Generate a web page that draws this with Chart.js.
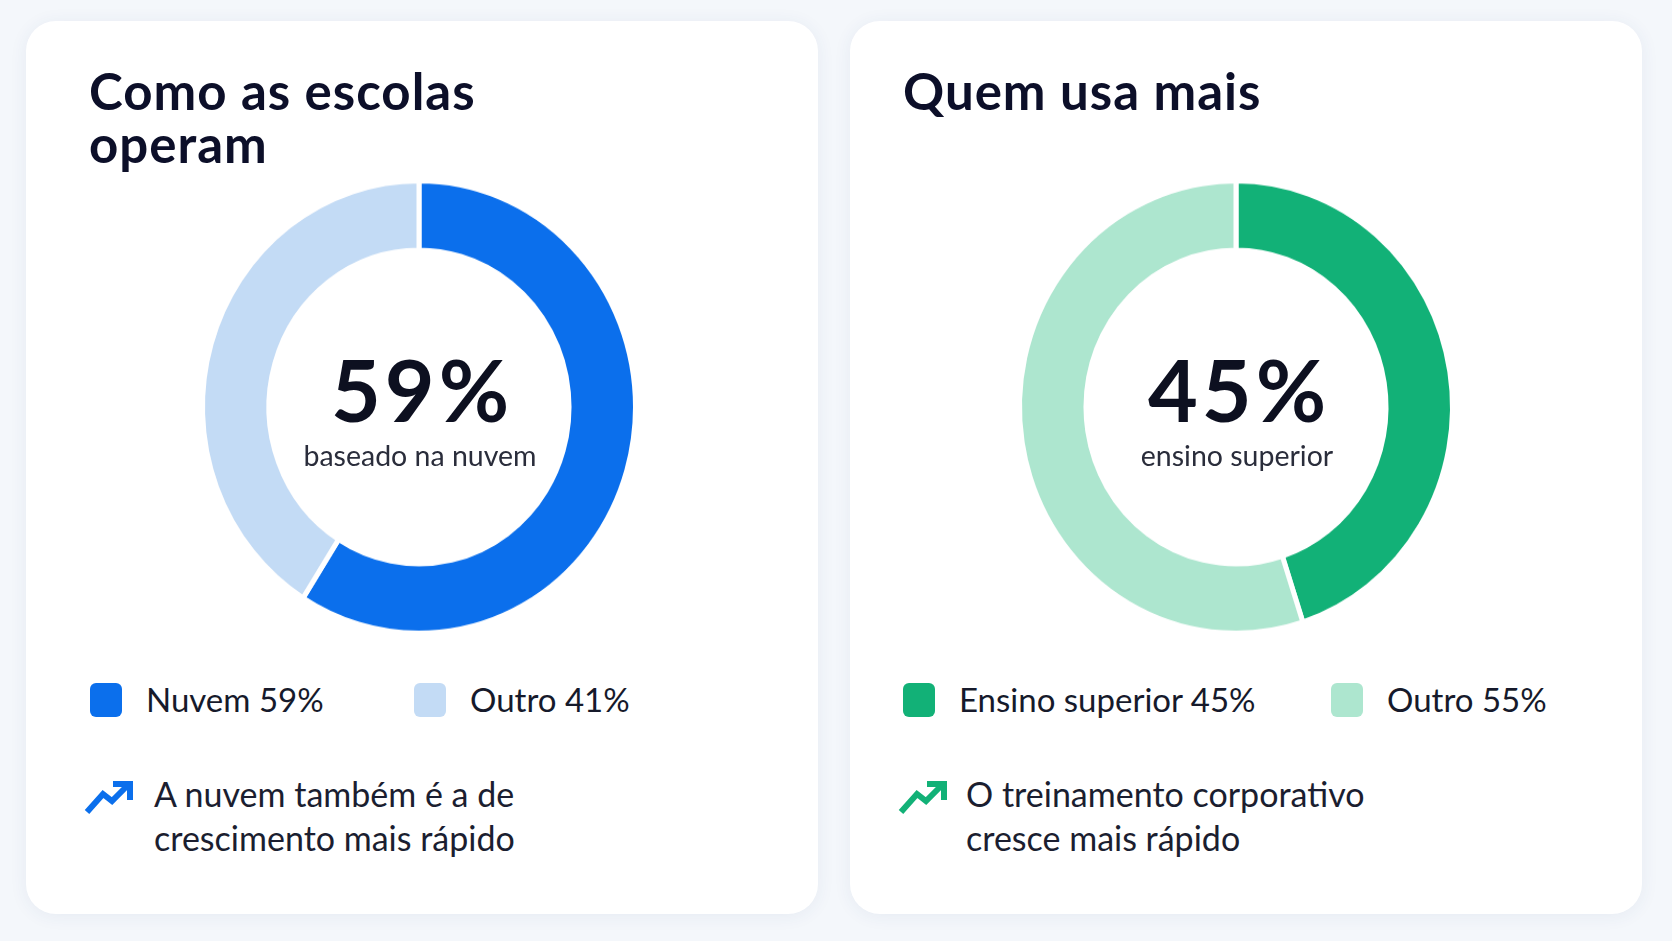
<!DOCTYPE html>
<html lang="pt-BR">
<head>
<meta charset="utf-8">
<script src="https://cdn.jsdelivr.net/npm/chart.js@4.4.0/dist/chart.umd.min.js"></script>
<style>
  html, body { margin: 0; padding: 0; }
  body {
    width: 1672px; height: 941px; position: relative; overflow: hidden;
    background: #f4f7fb;
    font-family: Lato, 'Noto Sans', sans-serif;
  }
  .card {
    position: absolute; top: 21px; width: 792px; height: 893px;
    background: #fff; border-radius: 30px;
    box-shadow: 0 2px 18px rgba(40, 70, 130, 0.07);
  }
  #card-0 { left: 26px; }
  #card-1 { left: 850px; }

  .panel { position: absolute; top: 0; left: 0; width: 830px; height: 941px; }
  #panel-1 { left: 814px; }

  .title {
    position: absolute; left: 89px; top: 63.8px; margin: 0;
    font-size: 51px; line-height: 53px; font-weight: 700; letter-spacing: 1px;
    color: #0c0f29; white-space: pre-line;
  }
  .donut-wrap {
    position: absolute; left: 189px; top: 176.5px; width: 460px; height: 460px;
    transform: scaleY(1.045);
  }
  #panel-1 .donut-wrap { left: 192px; }

  .big, .sub { position: absolute; left: 220px; width: 400px; text-align: center; line-height: 1; }
  #panel-1 .big, #panel-1 .sub { left: 223px; }
  .big { top: 345.7px; font-size: 86px; font-weight: 700; letter-spacing: 4px; text-indent: 4px; color: #0d1020; }
  .sub { top: 440.7px; font-size: 28.5px; color: #2a2d3b; }

  .legend-item { position: absolute; top: 683px; height: 34px; }
  .legend-item.i0 { left: 90px; }
  .legend-item.i1 { left: 414px; }
  #panel-1 .legend-item.i0 { left: 89px; }
  #panel-1 .legend-item.i1 { left: 517px; }
  .swatch { position: absolute; left: 0; top: 0; width: 32px; height: 34px; border-radius: 6px; }
  .legend-text {
    position: absolute; left: 56px; top: -0.3px; white-space: nowrap;
    font-size: 33px; line-height: 1; color: #161a2b;
  }

  .note-icon { position: absolute; left: 82px; top: 779px; }
  .note {
    position: absolute; left: 154px; top: 771.8px; white-space: pre-line;
    font-size: 34px; line-height: 44px; color: #1b1e30;
  }
  #panel-1 .note { left: 152px; }
</style>
</head>
<body>
<div class="card" id="card-0"></div>
<div class="card" id="card-1"></div>

<script>
// values
const panelTitles = ['Como as escolas\noperam', 'Quem usa mais'];
const categoriesA = ['Nuvem', 'Outro'];
const valuesA = [59, 41];
const categoriesB = ['Ensino superior', 'Outro'];
const valuesB = [45, 55];
const centerLabels = ['baseado na nuvem', 'ensino superior'];
const notes = ['A nuvem também é a de\ncrescimento mais rápido', 'O treinamento corporativo\ncresce mais rápido'];

const colorsA = ['#0b6fec', '#c3dbf5'];
const colorsB = ['#12b177', '#ade6cf'];

function el(tag, cls, parent, text) {
    const e = document.createElement(tag);
    if (cls) e.className = cls;
    if (text !== undefined) e.textContent = text;
    parent.appendChild(e);
    return e;
}

function buildPanel(i, categories, values, colors) {
    const panel = el('div', 'panel', document.body);
    panel.id = 'panel-' + i;

    el('h2', 'title', panel, panelTitles[i]);

    const wrap = el('div', 'donut-wrap', panel);
    const canvas = el('canvas', '', wrap);
    canvas.width = 460;
    canvas.height = 460;

    el('div', 'big', panel, values[0] + '%');
    el('div', 'sub', panel, centerLabels[i]);

    categories.forEach((cat, k) => {
        const item = el('div', 'legend-item i' + k, panel);
        const sw = el('div', 'swatch', item);
        sw.style.background = colors[k];
        el('div', 'legend-text', item, `${cat} ${values[k]}%`);
    });

    // trending-up icon next to the note
    const ns = 'http://www.w3.org/2000/svg';
    const svg = document.createElementNS(ns, 'svg');
    svg.setAttribute('class', 'note-icon');
    svg.setAttribute('width', 52);
    svg.setAttribute('height', 38);
    svg.setAttribute('viewBox', '0 0 52 38');
    ['5,33 21,15 30,22 46,6', '31,5 48,5 48,21'].forEach(pts => {
        const pl = document.createElementNS(ns, 'polyline');
        pl.setAttribute('points', pts);
        pl.setAttribute('fill', 'none');
        pl.setAttribute('stroke', colors[0]);
        pl.setAttribute('stroke-width', 6);
        pl.setAttribute('stroke-linejoin', 'miter');
        svg.appendChild(pl);
    });
    panel.appendChild(svg);

    el('div', 'note', panel, notes[i]);

    new Chart(canvas.getContext('2d'), {
        type: 'doughnut',
        data: {
            labels: categories,
            datasets: [{
                data: values,
                backgroundColor: colors,
                borderColor: '#ffffff',
                borderWidth: 5,
                hoverOffset: 0
            }]
        },
        options: {
            responsive: false,
            animation: false,
            radius: 216.5,
            cutout: '69.3%',
            rotation: 0,
            layout: { padding: 0 },
            plugins: {
                legend: { display: false },
                tooltip: { enabled: false }
            }
        }
    });
}

buildPanel(0, categoriesA, valuesA, colorsA);
buildPanel(1, categoriesB, valuesB, colorsB);
</script>
</body>
</html>
